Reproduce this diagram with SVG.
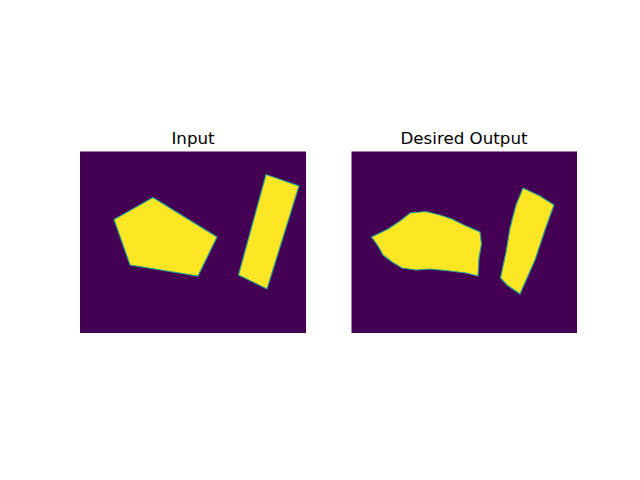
<svg xmlns="http://www.w3.org/2000/svg" width="640" height="480" viewBox="0 0 640 480">
<style>
.bg{fill:#440154}
.fg{fill:#fde725;stroke:#2a9d8f;stroke-width:1.2;stroke-linejoin:miter}
.t{font-family:"DejaVu Sans",sans-serif;font-size:16.7px;fill:#000;text-anchor:middle}
</style>
<rect width="640" height="480" fill="#fff"/>
<g id="input">
<text class="t" x="193" y="144">Input</text>
<rect class="bg" x="80" y="151.5" width="226" height="181.5"/>
<polygon class="fg" points="153,197.5 217,237 198,276 130,265 114,219.5"/>
<polygon class="fg" points="266,174.5 299,186 267,289 238.5,275"/>
</g>
<g id="output">
<text class="t" x="464" y="144">Desired Output</text>
<rect class="bg" x="351.5" y="151.5" width="225.5" height="181.5"/>
<polygon class="fg" points="371.5,237 388,229 400,221 410,213 426,211.5 440,215 452,219 464,225 480,232 481.5,244 479,258 478,276 466,273 450,271 430,269 416,270 402,268 392,262 383,255 378,246"/>
<polygon class="fg" points="523,188 540,196 554,205 545,230 535,260 520,294 507,285 500.5,278 506,252 510,228 516,205"/>
</g>
</svg>
